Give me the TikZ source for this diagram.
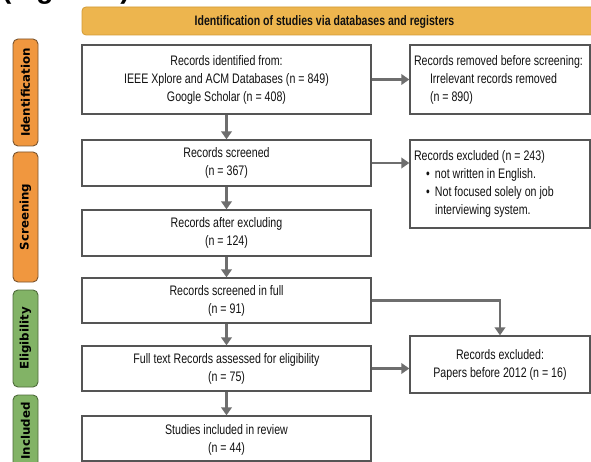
\documentclass[tikz,border=0pt]{standalone}
\usepackage{fontspec}
\setmainfont[FakeStretch=0.77]{Liberation Sans}
\newfontfamily\phasefont{DejaVu Sans}
\newfontfamily\plainsans{Liberation Sans}
\usetikzlibrary{arrows.meta}

\definecolor{boxline}{HTML}{555555}
\definecolor{flowgray}{HTML}{6E6E6E}
\definecolor{headfill}{HTML}{EDB54E}
\definecolor{headline}{HTML}{D29B35}
\definecolor{phaseorange}{HTML}{F0973F}
\definecolor{orangeline}{HTML}{7A5530}
\definecolor{phasegreen}{HTML}{82B366}
\definecolor{greenline}{HTML}{4E6B3B}
\definecolor{txt}{HTML}{111111}

\begin{document}
\begin{tikzpicture}[x=1pt,y=-1pt,
  box/.style={draw=boxline, line width=1.3pt, fill=white, inner sep=0pt,
    text=txt, font=\fontsize{13.8}{18}\selectfont},
  mainbox/.style={box, minimum width=289pt, align=center},
  sidebox/.style={box, minimum width=180pt},
  phase/.style={draw, line width=0.9pt, rounded corners=5pt, rotate=90,
    minimum height=25pt, inner sep=0pt, text=black,
    font=\phasefont\bfseries\fontsize{11.8}{13}\selectfont},
  flow/.style={draw=flowgray, line width=2.8pt,
    -{Triangle[length=8pt,width=10.5pt]}}
]
\useasboundingbox (0,0) rectangle (591,462);
\clip (0,0) rectangle (591,462);
\fill[white] (0,0) rectangle (591,462);

% caption tail above the frame
\begin{scope}
  \clip (0,0) rectangle (200,6);
  \node[anchor=base west, inner sep=0pt,
    font=\plainsans\bfseries\fontsize{28}{30}\selectfont] (figref) at (2,-1.5) {(Figure 1)};
\end{scope}

% header bar
\draw[fill=headfill, draw=headline, line width=0.8pt, rounded corners=4pt]
  (82,7) rectangle (610,35);
\node[inner sep=0pt, font=\bfseries\fontsize{13.7}{15}\selectfont, text=txt]
  (hdr) at (324.5,21.5) {Identification of studies via databases and registers};

% phase labels
\node[phase, fill=phaseorange, draw=orangeline, minimum width=107pt]
  (pid) at (25.5,92.5) {Identification};
\node[phase, fill=phaseorange, draw=orangeline, minimum width=130pt]
  (pscr) at (25.5,217) {Screening};
\node[phase, fill=phasegreen, draw=greenline, minimum width=97pt]
  (pel) at (25.5,338.5) {Eligibility};
\node[phase, fill=phasegreen, draw=greenline, minimum width=72pt]
  (pinc) at (25.5,431) {Included};

% main column
\node[mainbox, minimum height=69pt] (ident) at (226.5,79.5)
  {Records identified from:\\IEEE Xplore and ACM Databases (n = 849)\\Google Scholar (n = 408)};
\node[mainbox, minimum height=46pt] (screened) at (226.5,163)
  {Records screened\\(n = 367)};
\node[mainbox, minimum height=46pt] (after) at (226.5,233)
  {Records after excluding\\(n = 124)};
\node[mainbox, minimum height=45pt] (full) at (226.5,300.5)
  {Records screened in full\\(n = 91)};
\node[mainbox, minimum height=45pt] (assessed) at (226.5,368.5)
  {Full text Records assessed for eligibility\\(n = 75)};
\node[mainbox, minimum height=45pt, text depth=-3pt] (included) at (226.5,438.5)
  {Studies included in review\\(n = 44)};

% side column
\node[sidebox, minimum height=69pt, align=flush left, text width=172pt, inner xsep=4pt]
  (removed) at (500,79.5)
  {Records removed before screening:\\\hspace*{16pt}Irrelevant records removed\\\hspace*{16pt}(n = 890)};
\node[sidebox, minimum height=88pt, align=flush left, text width=172pt, inner xsep=4pt]
  (excluded) at (500,184)
  {Records excluded (n = 243)\\
   \hspace*{12pt}\makebox[9pt][l]{•}not written in English.\\
   \hspace*{12pt}\makebox[9pt][l]{•}Not focused solely on job\\
   \hspace*{21pt}interviewing system.};
\node[sidebox, minimum height=57pt, align=center] (later) at (500,364.5)
  {Records excluded:\\Papers before 2012 (n = 16)};

% connectors
\draw[flow] (ident.south) -- (screened.north);
\draw[flow] (screened.south) -- (after.north);
\draw[flow] (after.south) -- (full.north);
\draw[flow] (full.south) -- (assessed.north);
\draw[flow] (assessed.south) -- (included.north);
\draw[flow] (ident.east) -- (removed.west);
\draw[flow] (screened.east) -- (screened.east -| excluded.west);
\draw[flow] (assessed.east) -- (assessed.east -| later.west);
\draw[flow] (full.east) -| (later.north);
\end{tikzpicture}
\end{document}
